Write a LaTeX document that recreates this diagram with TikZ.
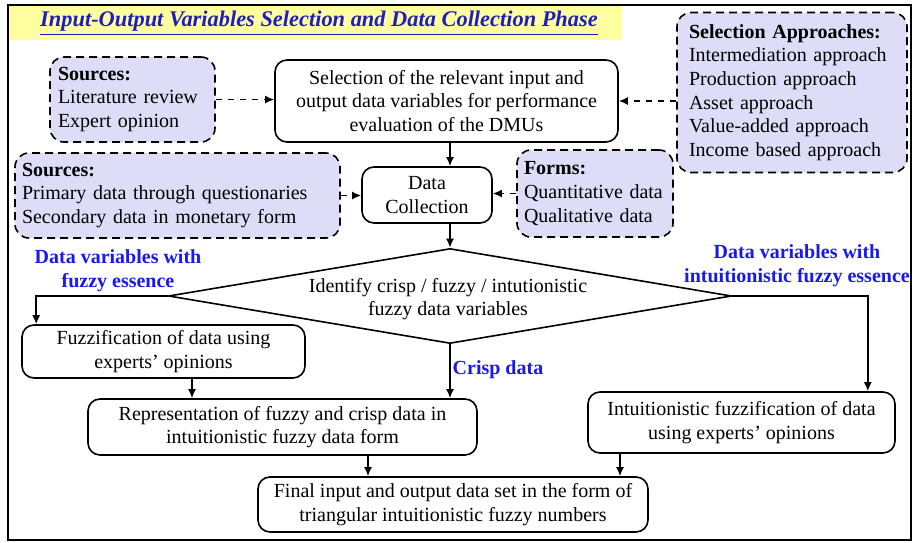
\documentclass[tikz,border=0pt]{standalone}
\usepackage{fontspec}
\setmainfont{Liberation Serif}
\usetikzlibrary{shapes.geometric,arrows.meta}
\definecolor{lavender}{RGB}{221,221,248}
\definecolor{titleyellow}{RGB}{255,255,160}
\definecolor{titleblue}{RGB}{30,30,190}
\definecolor{labelblue}{RGB}{25,25,235}
\begin{document}
\begin{tikzpicture}[x=0.5pt, y=-0.5pt, >={Latex[length=4.5pt,width=4pt]}, thick,
		every node/.style={font=\fontsize{10}{11.8}\selectfont},
		proc/.style={draw, rounded corners=6pt, align=center, inner sep=0pt},
		src/.style={draw, dash pattern=on 4pt off 2.5pt, rounded corners=7pt, fill=lavender, align=left, inner ysep=0pt},
		tag/.style={text=labelblue, font=\fontsize{10}{11.8}\selectfont\bfseries, align=center}]
		\useasboundingbox (0,0) rectangle (912,542);
		\fill[titleyellow] (8,6) rectangle (622,40);
		\draw[line width=1pt] (8,5) rectangle (911,540);
		\node[text=titleblue, font=\fontsize{11.2}{13}\selectfont\bfseries\itshape] (title) at (319,23) {\underline{Input-Output Variables Selection and Data Collection Phase}};

		\node[src, text width=74.5pt, inner xsep=4pt, minimum height=42.5pt] (lit) at (132.5,99.5) {\textbf{Sources:}\\Literature review\\Expert opinion};
		\node[proc, minimum width=171.5pt, minimum height=41pt] (sel) at (446.5,101) {Selection of the relevant input and\\output data variables for performance\\evaluation of the DMUs};
		\node[src, text width=103pt, inner xsep=6pt, minimum height=80pt] (appr) at (792,92.5) {\textbf{Selection Approaches:}\\Intermediation approach\\Production approach\\Asset approach\\Value-added approach\\Income based approach};
		\node[src, text width=155.5pt, inner xsep=3.5pt, minimum height=42.5pt] (prim) at (177.5,195.5) {\textbf{Sources:}\\Primary data through questionaries\\Secondary data in monetary form};
		\node[proc, minimum width=65pt, minimum height=28pt] (coll) at (427,195) {Data\\Collection};
		\node[src, text width=71pt, inner xsep=3.5pt, minimum height=43.5pt] (forms) at (595,193.5) {\textbf{Forms:}\\Quantitative data\\Qualitative data};

		\node[draw, diamond, minimum width=281.5pt, minimum height=47.5pt, inner sep=0pt] (ident) at (450,296) {};
		\node[align=center] (identtxt) at (448,299) {Identify crisp / fuzzy / intutionistic\\fuzzy data variables};

		\node[proc, minimum width=141.5pt, minimum height=26.5pt] (fuzz) at (163.5,351.5) {Fuzzification of data using\\experts’ opinions};
		\node[proc, minimum width=194.5pt, minimum height=28pt] (rep) at (282.5,427) {Representation of fuzzy and crisp data in\\intuitionistic fuzzy data form};
		\node[proc, minimum width=153.5pt, minimum height=30.5pt] (intf) at (741.5,422.5) {Intuitionistic fuzzification of data\\using experts’ opinions};
		\node[proc, minimum width=195pt, minimum height=27.5pt] (final) at (453,504.5) {Final input and output data set in the form of\\triangular intuitionistic fuzzy numbers};

		\node[tag] (fuzzytag) at (118,271) {Data variables with\\fuzzy essence};
		\node[tag] (intutag) at (797,266) {Data variables with\\intuitionistic fuzzy essence};
		\node[tag] (crisptag) at (498,370) {Crisp data};

		\draw[->, dashed] (lit.east) -- (lit.east -| sel.west);
		\draw[->, dashed] (appr.west |- sel.east) -- (sel.east);
		\draw[->, dashed] (prim.east) -- (prim.east -| coll.west);
		\draw[->, dashed] (forms.west) -- (forms.west -| coll.east);
		\draw[->] (sel.south -| ident.north) -- (coll.north -| ident.north);
		\draw[->] (coll.south -| ident.north) -- (ident.north);
		\draw[->] (ident.west) -| ([xshift=7.5pt]fuzz.north west);
		\draw[->] (ident.east) -| ([xshift=-14pt]intf.north east);
		\draw[->] (ident.south) -- (ident.south |- rep.north);
		\draw[->] ([xshift=14.25pt]fuzz.south) -- ([xshift=14.25pt]fuzz.south |- rep.north);
		\draw[->] ([xshift=42.75pt]rep.south) -- ([xshift=42.75pt]rep.south |- final.north);
		\draw[->] ([xshift=-60.75pt]intf.south) -- ([xshift=-60.75pt]intf.south |- final.north);
	\end{tikzpicture}
\end{document}
